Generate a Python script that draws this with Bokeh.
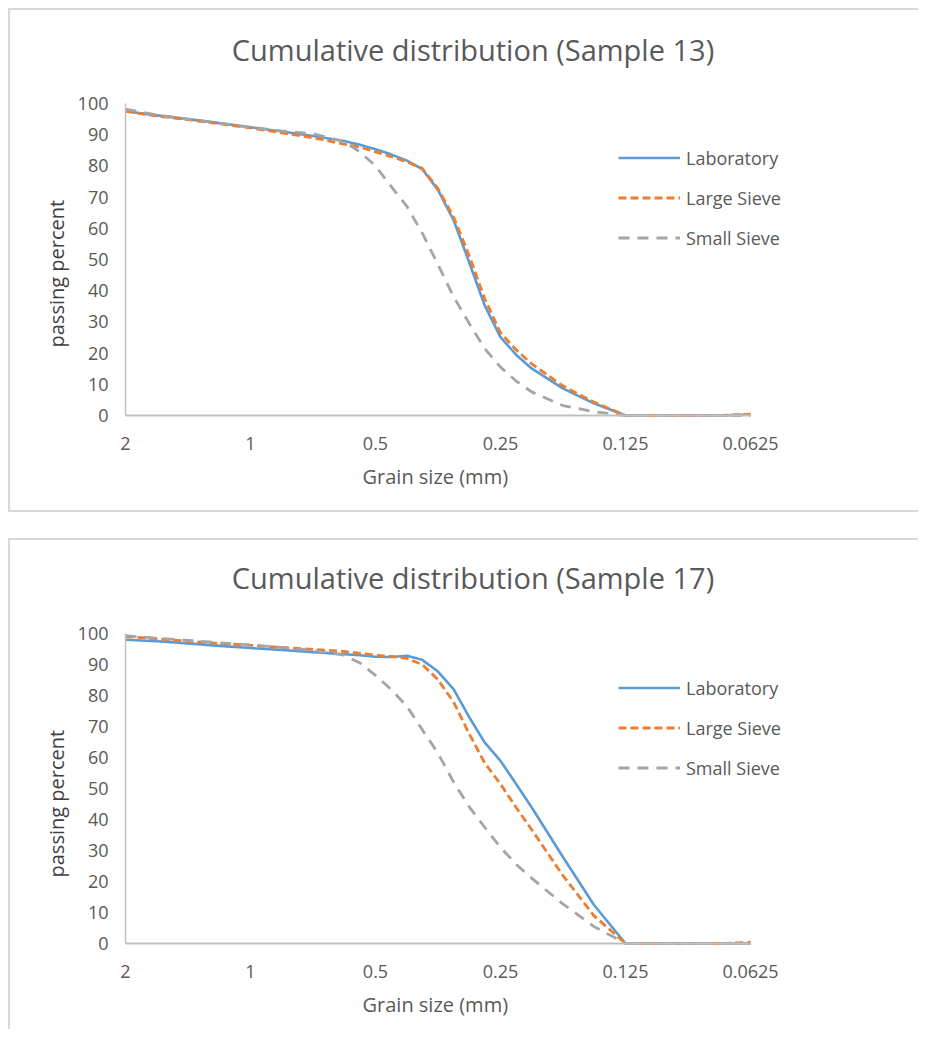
from bokeh.plotting import figure
from bokeh.models import Range1d, FixedTicker, ColumnDataSource, Title, Label
from bokeh.layouts import column
from bokeh.embed import file_html
from bokeh.resources import INLINE

# ---- data ----
sizes = [2, 1.682, 1.414, 1.189, 1, 0.841, 0.707, 0.595,
         0.545, 0.5, 0.459, 0.42, 0.386, 0.354, 0.324, 0.297, 0.273, 0.25, 0.229, 0.21,
         0.177, 0.149, 0.125, 0.105, 0.088, 0.074, 0.0625]
tick_sizes = [2, 1, 0.5, 0.25, 0.125, 0.0625]
tick_labels = ["2", "1", "0.5", "0.25", "0.125", "0.0625"]
y_ticks = [0, 10, 20, 30, 40, 50, 60, 70, 80, 90, 100]
series_names = ["Laboratory", "Large Sieve", "Small Sieve"]

s13_lab = [97.5, 96.2, 95.0, 93.7, 92.4, 91.0, 89.6, 88.0,
           86.8, 85.3, 83.7, 81.7, 79.0, 72.4, 62.5, 48.9, 35.3, 25.1, 19.4, 15.0,
           8.7, 3.9, 0, 0, 0, 0, 0.3]
s13_large = [97.5, 96.0, 94.8, 93.5, 92.2, 90.6, 89.0, 87.0,
             86.0, 84.5, 83.0, 81.3, 79.2, 72.8, 63.5, 51.0, 37.5, 26.5, 21.0, 16.5,
             9.5, 4.3, 0, 0, 0, 0, 0.4]
s13_small = [98.2, 96.3, 95.0, 93.7, 92.4, 91.2, 90.3, 87.8,
             84.5, 80.0, 73.5, 67.0, 58.5, 48.5, 38.0, 29.4, 21.5, 15.5, 11.0, 7.5,
             3.2, 1.2, 0, 0, 0, 0, 0]

s17_lab = [98.0, 97.5, 96.8, 96.0, 95.3, 94.7, 94.0, 93.3,
           93.0, 92.5, 92.4, 92.8, 91.5, 87.8, 82.0, 72.9, 64.9, 58.9, 51.4, 43.8,
           28.0, 12.5, 0, 0, 0, 0, 0]
s17_large = [99.0, 98.3, 97.5, 96.8, 96.2, 95.5, 94.9, 94.2,
             93.6, 93.0, 92.6, 92.0, 90.0, 85.2, 77.8, 67.5, 58.3, 51.4, 43.8, 36.6,
             22.0, 9.0, 0, 0, 0, 0, 0.4]
s17_small = [99.3, 98.5, 97.8, 97.0, 96.3, 95.5, 94.5, 93.0,
             90.5, 86.5, 82.0, 76.5, 69.0, 61.5, 52.0, 44.0, 37.5, 31.0, 25.5, 21.0,
             12.8, 5.5, 0, 0, 0, 0, 0]

FONT = "Open Sans"
TXT = "#595959"
BORDER = "#D9D9D9"
AXIS = "#BFBFBF"
COLORS = ["#5B9BD5", "#ED7D31", "#A5A5A5"]
DASHES = ["solid", "8 4", "11 8"]
WIDTHS = [2.6, 2.8, 2.8]

# layout geometry (pixels)
PX_OCT = 125.0          # pixels per halving of grain size
PAD_L = 3               # frame starts a little left of the first category
PAD_R = 73              # frame extends right of the last category (room for legend)
PAD_B = 3               # frame extends a little below zero
PAD_T = 83              # frame extends above 100 (room for the chart title)
FRAME_W = int(PAD_L + PX_OCT * 5 + PAD_R)
CANVAS_W = 908
MB_LEFT = 112
MB_TOP = 10


def make_panel(title, lab, large, small, plot_h, bottom, ylab_off, title_gap,
               shadow):
    frame_h = PAD_T + plot_h + PAD_B
    canvas_h = MB_TOP + frame_h + bottom
    x0 = tick_sizes[0] * 2 ** (PAD_L / PX_OCT)
    x1 = tick_sizes[-1] / 2 ** (PAD_R / PX_OCT)
    y0 = -PAD_B * 100.0 / plot_h
    y1 = 100 + PAD_T * 100.0 / plot_h
    p = figure(width=CANVAS_W, height=canvas_h,
               frame_width=FRAME_W, frame_height=frame_h,
               min_border_left=MB_LEFT,
               min_border_right=CANVAS_W - MB_LEFT - FRAME_W,
               min_border_top=MB_TOP, min_border_bottom=bottom,
               x_axis_type="log", x_range=Range1d(x0, x1),
               y_range=Range1d(y0, y1),
               output_backend="svg", toolbar_location=None)
    p.xgrid.visible = False
    p.ygrid.visible = False
    p.outline_line_color = None
    p.background_fill_color = "white"
    p.border_fill_color = "white"

    src = ColumnDataSource(dict(size=sizes, lab=lab, large=large, small=small))
    for col, name, c, d, w in zip(["lab", "large", "small"], series_names,
                                  COLORS, DASHES, WIDTHS):
        p.line(x="size", y=col, source=src, line_color=c, line_dash=d,
               line_width=w, line_join="round", legend_label=name)

    # axis lines (drawn over the series, like the original)
    p.segment(x0=[tick_sizes[0]], y0=[0], x1=[tick_sizes[-1]], y1=[0],
              line_color=AXIS, line_width=2)
    p.segment(x0=[tick_sizes[0]], y0=[0], x1=[tick_sizes[0]], y1=[y_ticks[-1]],
              line_color=AXIS, line_width=1.5)

    # x axis
    xa = p.xaxis[0]
    xa.ticker = FixedTicker(ticks=tick_sizes, minor_ticks=[])
    xa.major_label_overrides = {float(t): l for t, l in zip(tick_sizes, tick_labels)}
    xa.axis_line_color = None
    xa.major_tick_line_color = None
    xa.minor_tick_line_color = None
    xa.major_label_standoff = 12
    xa.major_label_text_font = FONT
    xa.major_label_text_font_size = "18px"
    xa.major_label_text_color = TXT

    # y axis
    ya = p.yaxis[0]
    ya.ticker = FixedTicker(ticks=y_ticks, minor_ticks=[])
    ya.axis_line_color = None
    ya.major_tick_line_color = None
    ya.minor_tick_line_color = None
    ya.major_label_standoff = 8
    ya.major_label_text_font = FONT
    ya.major_label_text_font_size = "18px"
    ya.major_label_text_color = TXT

    # chart title, inside the (extended) plot area
    p.add_layout(Label(x=FRAME_W / 2, y=PAD_B + plot_h + title_gap,
                       x_units="screen", y_units="screen", text=title,
                       text_align="center", text_baseline="middle",
                       text_font=FONT, text_font_size="29px", text_color=TXT))
    # axis titles
    p.add_layout(Title(text="Grain size (mm)", align="left", offset=240,
                       standoff=16, text_font=FONT, text_font_size="20px",
                       text_font_style="normal", text_color=TXT), "below")
    p.add_layout(Title(text="passing percent", align="left", offset=ylab_off,
                       standoff=9, text_font=FONT, text_font_size="20px",
                       text_font_style="normal", text_color="#404040"), "left")

    lg = p.legend[0]
    lg.border_line_color = None
    lg.background_fill_alpha = 0
    lg.glyph_width = 62
    lg.glyph_height = 23
    lg.label_height = 23
    lg.spacing = 16
    lg.padding = 0
    lg.margin = 0
    lg.label_standoff = 6
    lg.label_text_font = FONT
    lg.label_text_font_size = "18px"
    lg.label_text_color = TXT
    # legend top row ~57 px below the 100 line
    lg.location = (618 - 125 + PAD_L, PAD_B + plot_h - 146.5)

    p.styles = {"box-shadow": shadow}
    return p


s = "2px"
c = BORDER
p1 = make_panel("Cumulative distribution (Sample 13)", s13_lab, s13_large,
                s13_small, 312, 92, 71, 54,
                f"-{s} 0 0 0 {c}, 0 -{s} 0 0 {c}, 0 {s} 0 0 {c}, -{s} -{s} 0 0 {c}, -{s} {s} 0 0 {c}")
p2 = make_panel("Cumulative distribution (Sample 17)", s17_lab, s17_large,
                s17_small, 310, 83, 69, 56,
                f"-{s} 0 0 0 {c}, 0 -{s} 0 0 {c}, -{s} -{s} 0 0 {c}")

layout = column(p1, p2, spacing=30, margin=(10, 0, 0, 10))
open("out.html", "w").write(file_html(layout, INLINE))
